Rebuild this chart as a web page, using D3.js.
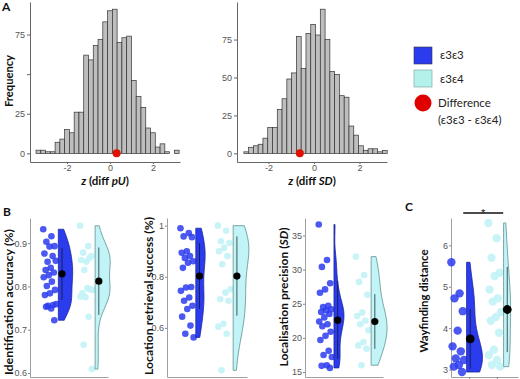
<!DOCTYPE html>
<html lang="en">
<head>
<meta charset="UTF-8">
<title>APOE permutation histograms and raincloud plots</title>
<script src="https://d3js.org/d3.v7.min.js"></script>
<style>
  body { margin: 0; background: #fff; }
  svg { display: block; font-family: "Liberation Sans", Arial, sans-serif; }
  .ttl { font-family: Lato, "Open Sans", sans-serif; font-weight: bold; fill: #111; }
  .leg { font-family: Lato, "Open Sans", sans-serif; fill: #222; font-size: 11.5px; }
  .tick text { fill: #555; font-size: 9px; }
</style>
</head>
<body>
<svg id="fig" width="520" height="379"></svg>
<script>
// --- data ---
const groups = ["ε3ε3", "ε3ε4"];

// panel A: permutation histograms (30 bins each)
const puBinStart = -3.44, puBinWidth = 0.222;
const puCounts = [2,2,1,1,7,9,15,13,26,26,62,59,68,72,83,90,91,70,73,74,46,36,29,16,13,4,6,1,0,2];
const sdBinStart = -3.08, sdBinWidth = 0.21;
const sdCounts = [1,4,5,6,10,17,17,29,36,49,53,77,56,79,85,78,95,75,54,52,38,37,18,12,5,2,3,3,1,2];
const observedDiff = [0.31, -0.62];   // pU, SD

// panels B and C: individual scores per group
const identE33 = [0.932,0.916,0.903,0.893,0.892,0.876,0.870,0.857,0.859,0.843,0.838,0.832,0.826,0.821,0.811,0.801,0.792,0.784,0.780,0.757,0.755,0.759,0.749,0.753,0.722];
const identE34 = [0.940,0.893,0.878,0.870,0.857,0.861,0.865,0.838,0.792,0.796,0.784,0.793,0.775,0.776,0.730,0.665,0.609];
const locE33 = [0.990,0.971,0.958,0.955,0.900,0.894,0.881,0.874,0.861,0.855,0.835,0.760,0.758,0.745,0.719,0.706,0.687,0.674,0.644,0.609,0.577,0.563];
const locE34 = [1.000,0.980,0.939,0.932,0.913,0.900,0.881,0.849,0.751,0.738,0.712,0.706,0.616,0.605,0.577,0.434];
const precE33 = [36.6,31.4,30.4,28.0,27.1,26.6,24.7,24.5,24.2,24.0,23.8,23.5,23.0,22.4,22.0,21.7,20.9,20.3,19.7,18.1,17.5,17.2,16.0,15.9,15.6];
const precE34 = [31.9,29.2,28.2,26.3,23.7,23.2,22.5,22.0,21.1,19.4,18.9,18.4,16.0];
const wayE33 = [5.59,4.84,4.72,4.41,3.94,3.56,3.44,3.27,3.23,3.11,3.07,2.94];
const wayE34 = [6.54,6.17,5.70,5.34,5.26,4.93,4.72,4.64,4.39,4.27,4.18,3.89,3.48,3.35,3.23,3.11,3.07];

// group means and SDs (as drawn)
const identMean = [0.829, 0.812], identSD = [0.060, 0.078];
const locMean = [0.803, 0.803], locSD = [0.129, 0.155];
const precMean = [22.6, 22.4], precSD = [5.7, 4.0];
const wayMean = [3.74, 4.45], waySD = [0.72, 1.03];

// y tick values
const identTicks = [0.6, 0.7, 0.8, 0.9];
const locTicks = [0.6, 0.8, 1];
const precTicks = [15, 20, 25, 30, 35];
const wayTicks = [3, 4, 5, 6];

const blue = "#2b3bee", blueDark = "#1b2696";
const cyan = "#c2f3f7", cyanLine = "#5b8f8f";
const red = "#e01005";

const svg = d3.select("#fig");

// ---------- panel A ----------
function histogram(o) {
  const g = svg.append("g");
  const maxC = d3.max(o.counts);
  const x = d3.scaleLinear().domain(o.xDomain).range([o.x0, o.x1]);
  const y = d3.scaleLinear().domain([-0.06 * maxC, 1.05 * maxC]).range([162, 2]);

  g.selectAll("rect").data(o.counts).join("rect")
    .attr("x", (d, i) => x(o.start + i * o.width))
    .attr("width", x(o.start + o.width) - x(o.start))
    .attr("y", d => y(d))
    .attr("height", d => y(0) - y(d))
    .attr("fill", "#bebebe")
    .attr("stroke", "#333")
    .attr("stroke-width", 0.7);

  g.append("circle")
    .attr("cx", x(o.diff)).attr("cy", y(0)).attr("r", 4)
    .attr("fill", red);

  const ya = g.append("g").attr("transform", `translate(${o.x0},0)`)
    .call(d3.axisLeft(y).tickValues([0, 25, 50, 75]).tickSize(3).tickSizeOuter(0).tickPadding(2)
      .tickFormat(d => o.hide50 && d === 50 ? "" : d));
  const xa = g.append("g").attr("transform", "translate(0,162)")
    .call(d3.axisBottom(x).tickValues([-2, 0, 2]).tickSize(2).tickSizeOuter(0).tickPadding(1)
      .tickFormat(d => String(d)));
  [ya, xa].forEach(a => {
    a.select(".domain").attr("stroke", "#666");
    a.selectAll(".tick line").attr("stroke", "#666");
  });

  const t = svg.append("text").attr("class", "ttl")
    .attr("x", o.labelX).attr("y", 185).attr("text-anchor", "middle")
    .style("font-size", "11.5px");
  t.append("tspan").style("font-style", "italic").text("z");
  t.append("tspan").text(" (diff ");
  t.append("tspan").style("font-style", "italic").text(o.label);
  t.append("tspan").text(")");
}

histogram({ counts: puCounts, start: puBinStart, width: puBinWidth, diff: observedDiff[0],
  xDomain: [-3.72, 3.26], x0: 30, x1: 180, label: "pU", labelX: 105, hide50: true });
histogram({ counts: sdCounts, start: sdBinStart, width: sdBinWidth, diff: observedDiff[1],
  xDomain: [-3.38, 3.21], x0: 237, x1: 387, label: "SD", labelX: 312, hide50: false });

svg.append("text").attr("class", "ttl")
  .attr("transform", "translate(8,81) rotate(-90)")
  .attr("text-anchor", "middle").attr("dominant-baseline", "central")
  .style("font-size", "12px").attr("textLength", 52).attr("lengthAdjust", "spacingAndGlyphs")
  .text("Frequency");

// legend
const leg = svg.append("g");
leg.append("rect").attr("x", 414).attr("y", 47).attr("width", 18).attr("height", 17)
  .attr("fill", blue).attr("stroke", "#334").attr("stroke-width", 0.6);
leg.append("rect").attr("x", 414).attr("y", 70).attr("width", 18).attr("height", 17)
  .attr("fill", "#b2f2ea").attr("stroke", "#7a9a9a").attr("stroke-width", 0.6);
leg.append("circle").attr("cx", 423).attr("cy", 103).attr("r", 8.5).attr("fill", "#e00000");
leg.append("text").attr("class", "leg").attr("x", 440).attr("y", 59).text(groups[0]);
leg.append("text").attr("class", "leg").attr("x", 440).attr("y", 83).text(groups[1]);
leg.append("text").attr("class", "leg").attr("x", 438).attr("y", 107).text("Difference");
leg.append("text").attr("class", "leg").attr("x", 438).attr("y", 124).text(`(${groups[0]} - ${groups[1]})`);

// ---------- panels B and C ----------
function density(values) {
  const s = values.slice().sort(d3.ascending);
  const sd = d3.deviation(s);
  const iqr = d3.quantile(s, 0.75) - d3.quantile(s, 0.25);
  const bw = 0.9 * Math.min(sd, iqr / 1.34) * Math.pow(s.length, -0.2);
  const [lo, hi] = d3.extent(s);
  return d3.range(0, 61).map(i => {
    const t = lo + (hi - lo) * i / 60;
    return [t, d3.mean(s, v => Math.exp(-0.5 * ((t - v) / bw) ** 2))];
  });
}

function raincloud(o) {
  const g = svg.append("g");
  const x = d3.scaleLinear().domain(o.xDomain).range([o.x0, o.x1]);
  const y = d3.scaleLinear().domain(o.yDomain).range([377, 218]);

  const ya = g.append("g").attr("transform", `translate(${o.x0},0)`)
    .call(d3.axisLeft(y).tickValues(o.ticks).tickSize(2).tickSizeOuter(0).tickPadding(1)
      .tickFormat(o.fmt));
  const xa = g.append("g").attr("transform", "translate(0,377)")
    .call(d3.axisBottom(x).tickValues(o.xTicks || []).tickSize(3).tickSizeOuter(0).tickFormat(""));
  [ya, xa].forEach(a => {
    a.select(".domain").attr("stroke", "#a0a0a0");
    a.selectAll(".tick line").attr("stroke", "#888");
  });

  o.sets.forEach((vals, gi) => {
    const pos = gi + 1;
    const isBlue = gi === 0;
    // jittered raw points
    g.append("g").selectAll("circle").data(vals).join("circle")
      .attr("cx", (d, i) => x(pos + (((i * 0.6180339887) % 1) - 0.5) * 0.36))
      .attr("cy", d => y(d))
      .attr("r", o.r)
      .attr("fill", isBlue ? blue : cyan)
      .attr("fill-opacity", isBlue ? 0.85 : 0.9);

    // half violin
    const dens = density(vals);
    const maxD = d3.max(dens, d => d[1]);
    const edge = pos + 0.23;
    g.append("path")
      .datum(dens)
      .attr("d", d3.area()
        .y(d => y(d[0]))
        .x0(x(edge))
        .x1(d => x(edge + o.vw[gi] * d[1] / maxD))
        .curve(d3.curveBasis))
      .attr("fill", isBlue ? blue : cyan)
      .attr("stroke", isBlue ? blueDark : cyanLine)
      .attr("stroke-width", 0.8);

    // mean +/- SD
    const mx = x(pos + 0.33);
    g.append("line")
      .attr("x1", mx).attr("x2", mx)
      .attr("y1", y(o.mean[gi] - o.sd[gi])).attr("y2", y(o.mean[gi] + o.sd[gi]))
      .attr("stroke", isBlue ? "#1a1f55" : "#3d5a5a").attr("stroke-width", 1);
    g.append("circle")
      .attr("cx", mx).attr("cy", y(o.mean[gi])).attr("r", o.mr)
      .attr("fill", "#000");
  });

  const t = svg.append("text").attr("class", "ttl")
    .attr("transform", `translate(${o.titleX},${o.titleY}) rotate(-90)`)
    .attr("text-anchor", "middle").attr("dominant-baseline", "central")
    .style("font-size", "12px")
    .attr("textLength", o.titleLen).attr("lengthAdjust", "spacingAndGlyphs");
  o.title.forEach(([txt, it]) => t.append("tspan").style("font-style", it ? "italic" : null).text(txt));

  if (o.sig) {
    const x1 = x(1.14), x2 = x(2.22);
    g.append("line").attr("x1", x1).attr("x2", x2).attr("y1", 213).attr("y2", 213)
      .attr("stroke", "#111").attr("stroke-width", 1.3);
    g.append("text").attr("x", (x1 + x2) / 2).attr("y", 217).attr("text-anchor", "middle")
      .style("font-size", "11px").attr("fill", "#111").text("*");
  }
}

raincloud({ sets: [identE33, identE34], mean: identMean, sd: identSD,
  x0: 30, x1: 108, xDomain: [0.46, 2.58], yDomain: [0.5908, 0.958],
  ticks: identTicks, fmt: d => d.toFixed(1), r: 3.3, mr: 3.6, vw: [0.39, 0.41],
  title: [["Identification accuracy (%)", false]], titleX: 8, titleY: 302, titleLen: 146 });

raincloud({ sets: [locE33, locE34], mean: locMean, sd: locSD,
  x0: 167, x1: 247, xDomain: [0.46, 2.6], yDomain: [0.408, 1.03],
  ticks: locTicks, fmt: d => d === 1 ? "1" : d.toFixed(1), r: 3.3, mr: 3.6, vw: [0.25, 0.42],
  title: [["Location retrieval success (%)", false]], titleX: 147.5, titleY: 296, titleLen: 158 });

raincloud({ sets: [precE33, precE34], mean: precMean, sd: precSD,
  x0: 305, x1: 383, xDomain: [0.45, 2.55], yDomain: [14.27, 37.56],
  ticks: precTicks, fmt: d => d, r: 3.3, mr: 3.6, vw: [0.27, 0.43],
  title: [["Localisation precision (", false], ["SD", true], [")", false]], titleX: 283, titleY: 297, titleLen: 139 });

raincloud({ sets: [wayE33, wayE34], mean: wayMean, sd: waySD,
  x0: 451, x1: 518, xDomain: [0.81, 2.62], yDomain: [2.82, 6.66],
  ticks: wayTicks, fmt: d => d, r: 4.2, mr: 4.4, vw: [0.43, 0.19], xTicks: [1.3, 2.05],
  title: [["Wayfinding distance", false]], titleX: 422.5, titleY: 301, titleLen: 103, sig: true });

// panel letters
[["A", 2, 11], ["B", 3, 216], ["C", 405, 211]].forEach(([l, px, py]) =>
  svg.append("text").attr("class", "ttl").attr("x", px).attr("y", py)
    .style("font-size", "12px").text(l));
</script>
</body>
</html>
